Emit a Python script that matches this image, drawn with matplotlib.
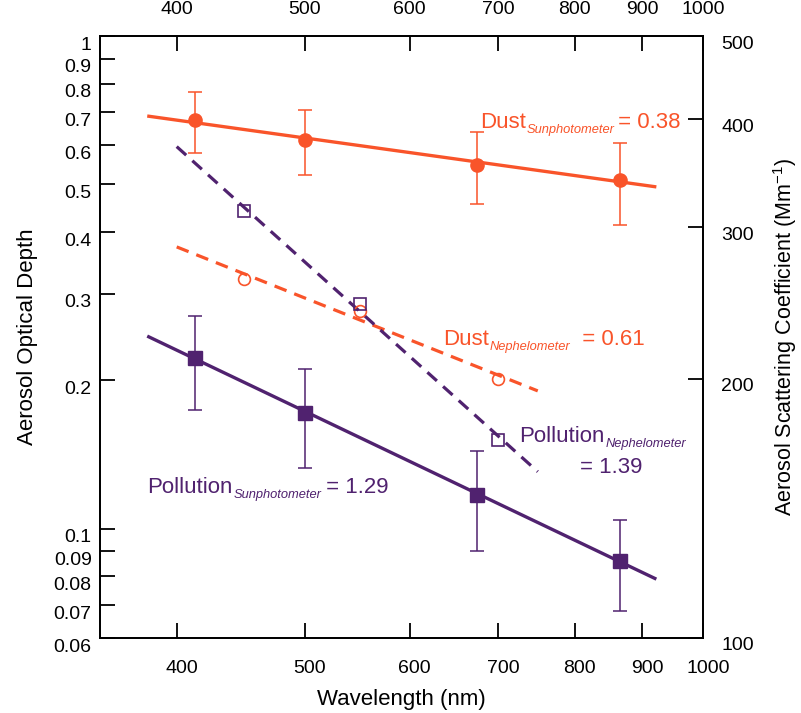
import matplotlib
matplotlib.use("Agg")
import matplotlib.pyplot as plt
import matplotlib.ticker as mticker
import matplotlib.transforms as mtransforms

plt.rcParams['font.family'] = ['Liberation Sans', 'DejaVu Sans']
plt.rcParams['mathtext.fontset'] = 'custom'
plt.rcParams['mathtext.rm'] = 'Liberation Sans'
plt.rcParams['mathtext.it'] = 'Liberation Sans:italic'

# ---------------- data ----------------
sun_wl = [413, 500, 675, 865]
dust_sun_aod = [0.675, 0.615, 0.547, 0.510]
dust_sun_err = [0.095, 0.093, 0.092, 0.096]
poll_sun_aod = [0.222, 0.172, 0.117, 0.086]
poll_sun_err = [0.048, 0.039, 0.027, 0.018]

neph_wl = [450, 550, 700]
dust_neph_sca = [261, 240, 200]
poll_neph_sca = [313, 244, 170]

sun_fit_wl = [380, 922]
dust_sun_fit = [0.688, 0.494]
poll_sun_fit = [0.246, 0.079]
neph_fit_wl = [400, 750]
dust_neph_fit = [284.5, 193.6]
poll_neph_fit = [372, 156]

x_ticks = [400, 500, 600, 700, 800, 900, 1000]
x_ticklabels = ['400', '500', '600', '700', '800', '900', '1000']
aod_ticks = [0.06, 0.07, 0.08, 0.09, 0.1, 0.2, 0.3, 0.4, 0.5, 0.6, 0.7, 0.8, 0.9, 1]
aod_ticklabels = ['0.06', '0.07', '0.08', '0.09', '0.1', '0.2', '0.3', '0.4', '0.5',
                  '0.6', '0.7', '0.8', '0.9', '1']
sca_ticks = [100, 200, 300, 400, 500]
sca_ticklabels = ['100', '200', '300', '400', '500']

ORANGE = '#F9542A'
PURPLE = '#50226F'

W, H = 801, 713
fig = plt.figure(figsize=(W / 100, H / 100), dpi=100)
ax = fig.add_axes([100 / W, (H - 638) / H, 603 / W, 602 / H])
ax2 = ax.twinx()

for a in (ax, ax2):
    for s in a.spines.values():
        s.set_linewidth(1.3)

ax.set_xscale('log')
ax.set_yscale('log')
ax2.set_yscale('log')
ax.set_xlim(350, 1000)
ax.set_ylim(0.06, 1)
ax2.set_ylim(100, 500)

ax.xaxis.set_major_locator(mticker.FixedLocator(x_ticks))
ax.xaxis.set_major_formatter(mticker.FixedFormatter(x_ticklabels))
ax.xaxis.set_minor_locator(mticker.NullLocator())
ax.yaxis.set_major_locator(mticker.FixedLocator(aod_ticks))
ax.yaxis.set_major_formatter(mticker.FixedFormatter(aod_ticklabels))
ax.yaxis.set_minor_locator(mticker.NullLocator())
ax2.yaxis.set_major_locator(mticker.FixedLocator(sca_ticks))
ax2.yaxis.set_major_formatter(mticker.FixedFormatter(sca_ticklabels))
ax2.yaxis.set_minor_locator(mticker.NullLocator())

ax.tick_params(axis='x', which='major', direction='in', length=10.8, width=1.3,
               top=True, labeltop=True, bottom=True, labelbottom=True, labelsize=14, pad=15.5)
ax.tick_params(axis='y', which='major', direction='in', length=10.8, width=1.3,
               left=True, right=False, labelsize=14, pad=6)
ax2.tick_params(axis='y', which='major', direction='in', length=10.8, width=1.3,
                right=True, left=False, labelsize=14, pad=13)

# ---------------- sunphotometer (left axis) ----------------
ax.plot(sun_fit_wl, dust_sun_fit, color=ORANGE, lw=2.4, solid_capstyle='butt', zorder=2)
ax.errorbar(sun_wl, dust_sun_aod, yerr=dust_sun_err, fmt='o', color=ORANGE, ms=9.5,
            elinewidth=1.1, capsize=4.7, capthick=1.1, zorder=3)
ax.plot(sun_fit_wl, poll_sun_fit, color=PURPLE, lw=2.4, solid_capstyle='butt', zorder=2)
ax.errorbar(sun_wl, poll_sun_aod, yerr=poll_sun_err, fmt='s', color=PURPLE, ms=9.5,
            elinewidth=1.1, capsize=4.7, capthick=1.1, zorder=3)

# ---------------- nephelometer (right axis) ----------------
ax2.plot(neph_fit_wl, dust_neph_fit, color=ORANGE, lw=2.3, ls=(0, (4.0, 2.6)), zorder=2)
ax2.plot(neph_wl, dust_neph_sca, ls='none', marker='o', ms=8.5, mfc='none', mec=ORANGE,
         mew=1.2, zorder=3)
ax2.plot(neph_fit_wl, poll_neph_fit, color=PURPLE, lw=2.3, ls=(0, (4.0, 2.6)), zorder=2)
ax2.plot(neph_wl, poll_neph_sca, ls='none', marker='s', ms=8.5, mfc='none', mec=PURPLE,
         mew=1.2, zorder=3)

# ---------------- labels ----------------
ax.set_xlabel('Wavelength (nm)', fontsize=16)
ax.xaxis.set_label_coords(0.5, -0.085)
ax.set_ylabel('Aerosol Optical Depth', fontsize=16)
ax.yaxis.set_label_coords(-0.103, 0.5)
ax2.set_ylabel('Aerosol Scattering Coefficient (Mm$^{\\mathregular{-1}}$)', fontsize=15.5)
ax2.yaxis.set_label_coords(1.113, 0.5)


def sub_label(x, y, main, sub, tail, color, drop=3.6, tail_dx=0.0):
    t1 = ax2.text(x, y, main, transform=ax2.transAxes, fontsize=16, color=color,
                  ha='left', va='baseline', zorder=5)
    t2 = ax2.annotate(sub, xy=(1, 0), xycoords=t1, xytext=(0.6, 3.4 - drop),
                      textcoords='offset points', fontsize=9.3, style='italic',
                      color=color, ha='left', va='baseline', zorder=5)
    t3 = None
    if tail:
        t3 = ax2.annotate(tail, xy=(1, 0), xycoords=(t2, t1), xytext=(tail_dx, 0),
                          textcoords='offset points', fontsize=16, color=color,
                          ha='left', va='bottom', zorder=5)
    return t1, t2, t3


sub_label(0.630, 0.847, 'Dust', 'Sunphotometer', ' = 0.38', ORANGE, tail_dx=-2)
sub_label(0.569, 0.487, 'Dust', 'Nephelometer', '  = 0.61', ORANGE)
sub_label(0.695, 0.326, 'Pollution', 'Nephelometer', '', PURPLE)
ax2.text(0.796, 0.274, '= 1.39', transform=ax2.transAxes, fontsize=16, color=PURPLE,
         ha='left', va='baseline')
sub_label(0.078, 0.241, 'Pollution', 'Sunphotometer', ' = 1.29', PURPLE, tail_dx=-1)


# ---------------- tick label fine offsets ----------------
def shift(labels, dx_px, dy_px):
    off = mtransforms.ScaledTranslation(dx_px / 100, dy_px / 100, fig.dpi_scale_trans)
    for lab in labels:
        lab.set_transform(lab.get_transform() + off)


xt = ax.xaxis.get_major_ticks()
shift([t.label1 for t in xt], 5, 0)
shift([t.label2 for t in xt], 0, -4)
shift([t.label1 for t in ax.yaxis.get_major_ticks()], 0, -7)
shift([t.label2 for t in ax2.yaxis.get_major_ticks()], 0, -6)

fig.savefig('out.png', dpi=100)
